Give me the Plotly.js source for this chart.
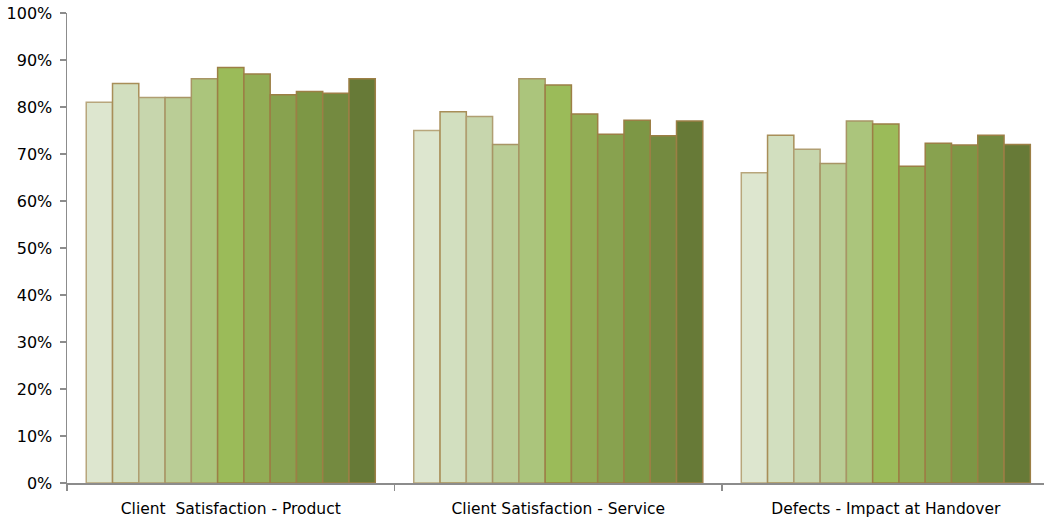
<!DOCTYPE html>
<html>
<head>
<meta charset="utf-8">
<script src="https://cdn.plot.ly/plotly-3.0.1.min.js"></script>
<style>html,body{margin:0;padding:0;background:#fff;}#chart{width:1044px;height:521px;}</style>
</head>
<body>
<div id="chart"></div>
<script>
const categories = ["Client  Satisfaction - Product", "Client Satisfaction - Service", "Defects - Impact at Handover"];
const seriesNames = ["Series 1","Series 2","Series 3","Series 4","Series 5","Series 6","Series 7","Series 8","Series 9","Series 10","Series 11"];
const s1  = [0.81, 0.75, 0.66];
const s2  = [0.85, 0.79, 0.74];
const s3  = [0.82, 0.78, 0.71];
const s4  = [0.82, 0.72, 0.68];
const s5  = [0.86, 0.86, 0.77];
const s6  = [0.884, 0.847, 0.764];
const s7  = [0.87, 0.785, 0.674];
const s8  = [0.826, 0.742, 0.723];
const s9  = [0.833, 0.772, 0.719];
const s10 = [0.829, 0.739, 0.74];
const s11 = [0.86, 0.77, 0.72];
const seriesValues = [s1,s2,s3,s4,s5,s6,s7,s8,s9,s10,s11];
const colors = ["#dde6cf","#d2dfbf","#c7d6ad","#bacd96","#abc57c","#9bbb59","#92ad55","#88a24f","#7d9745","#748a40","#677a37"];
const outline = ["#b8a67c","#a88e58","#b09e72","#a89565","#a89565","#9c7f45","#9c7f45","#9c7f45","#9c7f45","#9c7f45","#9c7f45"];

const traces = seriesValues.map((vals, i) => ({
  type: 'bar',
  name: seriesNames[i],
  x: categories,
  y: vals,
  marker: {color: colors[i], line: {color: outline[i], width: 1.5}},
  hoverinfo: 'y'
}));

const layout = {
  width: 1044, height: 521,
  margin: {l: 67, r: 0, t: 13, b: 38},
  paper_bgcolor: '#ffffff', plot_bgcolor: '#ffffff',
  showlegend: false,
  barmode: 'group',
  bargap: 0.1175,
  bargroupgap: 0,
  font: {family: 'DejaVu Sans, Verdana, sans-serif', size: 15, color: '#000'},
  xaxis: {
    type: 'category',
    range: [-0.5, 2.483],
    showline: true, linecolor: '#8c8c8c', linewidth: 1.5,
    ticks: 'outside', tickson: 'boundaries', ticklen: 6, tickcolor: '#8c8c8c', tickwidth: 1.5,
    showgrid: false, zeroline: false,
    tickfont: {family: 'DejaVu Sans, Verdana, sans-serif', size: 15.5, color: '#000'},
    ticklabelstandoff: 11
  },
  yaxis: {
    range: [0, 1],
    dtick: 0.1, tick0: 0,
    tickformat: '.0%',
    showline: true, linecolor: '#8c8c8c', linewidth: 1.5,
    ticks: 'outside', ticklen: 6, tickcolor: '#8c8c8c', tickwidth: 1.5,
    showgrid: false, zeroline: false,
    tickfont: {family: 'DejaVu Sans, Verdana, sans-serif', size: 16, color: '#000'},
    ticklabelstandoff: 4
  }
};

Plotly.newPlot('chart', traces, layout, {displayModeBar: false, staticPlot: true});
</script>
</body>
</html>
